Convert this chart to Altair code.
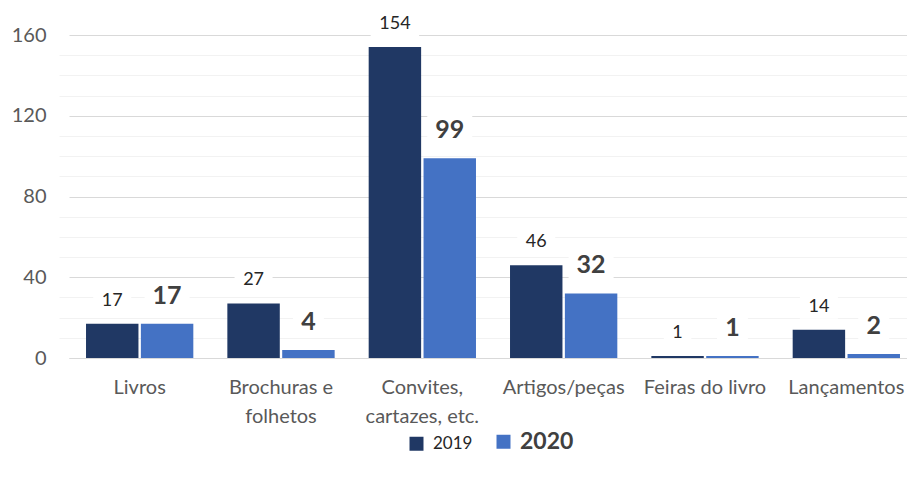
import altair as alt
import pandas as pd

categories = ["Livros", "Brochuras e folhetos", "Convites, cartazes, etc.",
              "Artigos/peças", "Feiras do livro", "Lançamentos"]
values_2019 = [17, 27, 154, 46, 1, 14]
values_2020 = [17, 4, 99, 32, 1, 2]
series = ["2019", "2020"]
colors = ["#203864", "#4472C4"]
y_ticks = [0, 40, 80, 120, 160]
y_minor = [10, 20, 30, 50, 60, 70, 90, 100, 110, 130, 140, 150]

rows = []
for c, a, b in zip(categories, values_2019, values_2020):
    rows.append({"cat": c, "year": "2019", "value": a})
    rows.append({"cat": c, "year": "2020", "value": b})
df = pd.DataFrame(rows)

FONT = "Lato"

label_expr = ("datum.label == 'Brochuras e folhetos' ? ['Brochuras e', 'folhetos'] : "
              "datum.label == 'Convites, cartazes, etc.' ? ['Convites,', 'cartazes, etc.'] : datum.label")

x_enc = alt.X("cat:N", sort=categories,
              scale=alt.Scale(paddingInner=0.2408, paddingOuter=0.1204, range=[0, 848]),
              axis=alt.Axis(title=None, labelAngle=0, labelFont=FONT, labelFontSize=20,
                            labelColor="#595959", labelPadding=19, labelLineHeight=29,
                            ticks=False, domain=True, domainColor="#d9d9d9", grid=False,
                            labelExpr=label_expr, labelOverlap=False, labelLimit=300))
xo_enc = alt.XOffset("year:N", sort=series, scale=alt.Scale(paddingInner=0.044))
y_scale = alt.Scale(domain=[0, 160], nice=False)
y_plain = alt.Y("value:Q", scale=y_scale, axis=None)

base = alt.Chart(df)

minor = base.mark_bar(opacity=0).encode(
    x=x_enc, xOffset=xo_enc,
    y=alt.Y("value:Q", scale=y_scale,
            axis=alt.Axis(values=y_minor, orient="right", labels=False, ticks=False,
                          domain=False, title=None, grid=True, gridColor="#f2f2f2",
                          gridWidth=1)),
)

bars = base.mark_bar().encode(
    x=x_enc, xOffset=xo_enc,
    y=alt.Y("value:Q", scale=y_scale,
            axis=alt.Axis(values=y_ticks, title=None, labelFont=FONT, labelFontSize=20,
                          labelColor="#595959", labelPadding=23, ticks=False, domain=False,
                          grid=True, gridColor="#d9d9d9", gridWidth=1)),
    color=alt.Color("year:N", scale=alt.Scale(domain=series, range=colors),
                    legend=alt.Legend(title=None, orient="none", legendX=339, legendY=398,
                                      direction="horizontal", symbolType="square",
                                      symbolSize=196, symbolStrokeWidth=0,
                                      labelFont=FONT,
                                      labelFontSize={"expr": "datum.label == '2020' ? 23 : 17"},
                                      labelFontWeight={"expr": "datum.label == '2020' ? 'bold' : 'normal'"},
                                      labelColor={"expr": "datum.label == '2020' ? '#404040' : '#262626'"},
                                      labelOffset=8, columnPadding=22)),
)

box19 = base.transform_filter(alt.datum.year == "2019").transform_calculate(
    bw="length(toString(datum.value)) * 10.5 + 17"
).mark_tick(color="white", opacity=1, thickness=24, yOffset=-23).encode(
    x=x_enc, xOffset=xo_enc, y=y_plain,
    size=alt.Size("bw:Q", scale=None, legend=None),
)

box20 = base.transform_filter(alt.datum.year == "2020").transform_calculate(
    bw="length(toString(datum.value)) * 14 + 17"
).mark_tick(color="white", opacity=1, thickness=30, yOffset=-28).encode(
    x=x_enc, xOffset=xo_enc, y=y_plain,
    size=alt.Size("bw:Q", scale=None, legend=None),
)

t19 = base.transform_filter(alt.datum.year == "2019").mark_text(
    font=FONT, fontSize=18, color="#262626", dy=-23, baseline="middle"
).encode(x=x_enc, xOffset=xo_enc, y=y_plain, text="value:Q")

t20 = base.transform_filter(alt.datum.year == "2020").mark_text(
    font=FONT, fontSize=25, fontWeight="bold", color="#404040", dy=-28, baseline="middle"
).encode(x=x_enc, xOffset=xo_enc, y=y_plain, text="value:Q")

chart = alt.layer(minor, box19, box20, bars, t19, t20).resolve_axis(
    y="independent"
).properties(
    width=838, height=323,
    autosize=alt.AutoSizeParams(type="none"),
    padding={"left": 61, "top": 27, "right": 0, "bottom": 100},
).configure_view(stroke=None)

chart.save("out.html", embed_options={"renderer": "svg", "actions": False})
